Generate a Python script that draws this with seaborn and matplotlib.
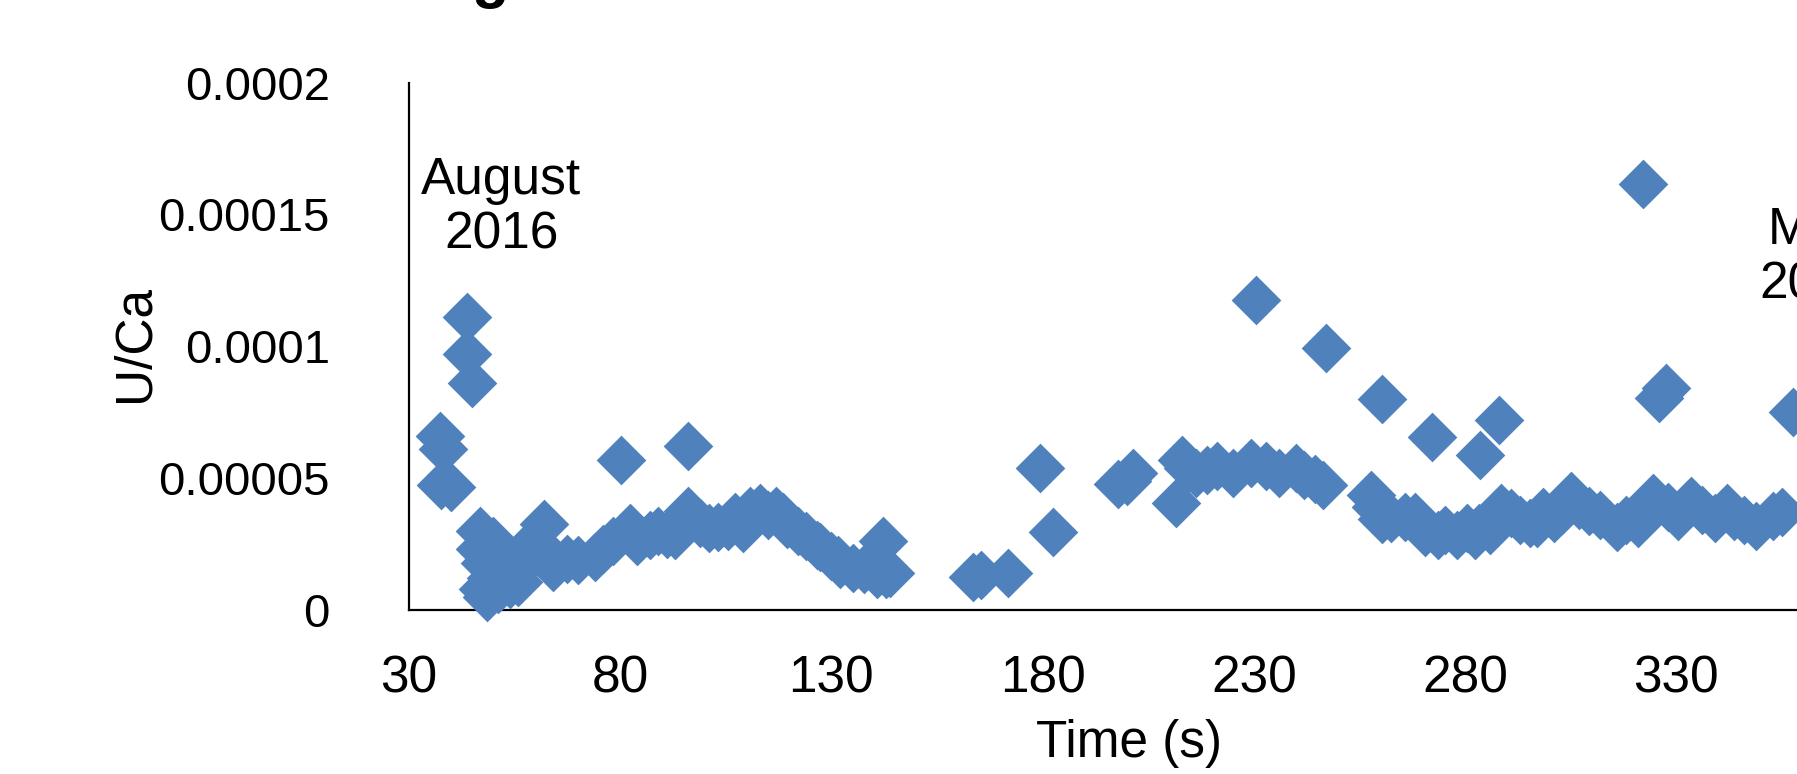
import numpy as np
import pandas as pd
import matplotlib
matplotlib.use("Agg")
import matplotlib.pyplot as plt
from matplotlib import font_manager
import seaborn as sns

# ---- data ----
time_s = [37.4, 38.0, 37.5, 40.0, 43.8, 43.8, 45.0,
          46.8, 50.0, 46.8, 48.0, 47.6, 48.5, 51.1, 49.5, 53.9, 55.0, 52.0, 55.9, 58.0,
          62.0, 60.2, 64.2, 67.3, 70.0, 74.0, 76.0, 78.4, 80.3, 82.3, 84.0, 87.0, 89.0,
          91.0, 93.0, 96.1, 96.1, 99.0, 101.0, 103.2, 105.5, 107.2, 109.0, 110.7, 113.1,
          115.0, 117.0, 118.6, 119.4, 122.2, 124.0, 126.5, 127.3, 130.0, 131.6, 132.0,
          135.0, 137.6, 140.7, 142.3, 143.0, 143.9,
          163.6, 165.5, 171.9, 179.4, 182.5, 197.8, 200.0, 201.5, 211.7, 212.9, 214.5,
          216.4, 219.0, 221.2, 225.0, 229.3, 230.5, 233.0, 236.0, 240.0, 242.0, 244.5,
          246.5, 247.0,
          257.8, 259.0, 260.3, 260.3, 262.6, 265.8, 268.2, 270.5, 272.3, 273.7, 275.3,
          278.0, 280.4, 282.4, 283.5, 283.4, 285.9, 288.1, 288.6, 291.0, 293.0, 295.4,
          297.0, 298.5, 301.0, 303.0, 305.0, 307.0, 309.4, 312.0, 315.9, 318.0, 321.0,
          322.2, 324.6, 325.9, 327.7, 328.0, 330.5, 333.4, 336.0, 339.2, 342.0, 343.6,
          346.0, 349.0, 353.0, 355.0, 357.6]
u_ca_e5 = [6.6, 6.1, 4.75, 4.65, 11.1, 9.7, 8.6,
           3.0, 2.6, 2.3, 1.8, 0.8, 0.5, 0.8, 1.2, 1.0, 1.4, 2.0, 1.07, 2.4,
           3.25, 2.53, 1.64, 1.93, 1.9, 2.0, 2.3, 2.6, 5.7, 3.1, 2.6, 2.85, 3.0,
           2.9, 2.85, 6.2, 3.75, 3.3, 3.1, 3.16, 3.2, 3.54, 3.1, 3.75, 3.85,
           3.6, 3.75, 3.54, 3.25, 3.0, 2.8, 2.46, 2.4, 2.06, 1.9, 1.73,
           1.6, 1.55, 1.35, 2.63, 1.35, 1.41,
           1.26, 1.33, 1.39, 5.37, 2.94, 4.76, 4.9, 5.18, 4.07, 5.69, 5.4,
           5.18, 5.3, 5.47, 5.2, 5.56, 11.75, 5.46, 5.2, 5.37, 5.1, 4.95,
           4.74, 9.92,
           4.36, 3.92, 8.0, 3.44, 3.48, 3.54, 3.51, 2.97, 6.57, 2.84, 3.03,
           2.84, 3.1, 2.84, 5.87, 3.1, 3.03, 7.19, 3.85, 3.67, 3.41, 3.29,
           3.29, 3.73, 3.5, 3.8, 4.33, 4.0, 3.76, 3.6, 3.16, 3.4, 3.29,
           16.17, 4.23, 8.02, 8.40, 3.9, 3.57, 4.14, 3.8, 3.48, 3.85, 3.57,
           3.4, 3.2, 3.57, 3.73, 7.49]
u_ca = [v * 1e-5 for v in u_ca_e5]

x_ticks = [30, 80, 130, 180, 230, 280, 330]
y_ticks = [0, 0.00005, 0.0001, 0.00015, 0.0002]
y_tick_labels = ["0", "0.00005", "0.0001", "0.00015", "0.0002"]
annotations = [("August\n2016", 51.8, 1.524e-4), ("May\n2017", 363.2, 1.335e-4)]

df = pd.DataFrame({"Time (s)": time_s, "U/Ca": u_ca})

sns.set_theme(style="white")
plt.rcParams["font.family"] = ["Liberation Sans", "DejaVu Sans"]
FS = 37

installed = {f.name for f in font_manager.fontManager.ttflist}
if "Liberation Sans Narrow" in installed:
    ytick_family, ytick_fs = ["Liberation Sans Narrow", "Liberation Sans"], 38
else:
    ytick_family, ytick_fs = ["Liberation Sans", "DejaVu Sans"], 34

W, H = 1797, 774
fig = plt.figure(figsize=(W / 100, H / 100), dpi=100)
ax = fig.add_axes([409 / W, 1 - 610 / H, 1 - 409 / W, (610 - 82.5) / H])

sns.scatterplot(data=df, x="Time (s)", y="U/Ca", ax=ax, marker="D", s=640,
                color="#4F81BD", linewidth=0, clip_on=False, zorder=3)

ax.set_xlim(30, 358.6)
ax.set_ylim(0, 0.0002)
ax.set_xticks(x_ticks)
ax.set_xticklabels([str(t) for t in x_ticks], fontsize=FS)
ax.set_yticks(y_ticks)
ax.set_yticklabels(y_tick_labels, fontsize=ytick_fs, family=ytick_family)
ax.tick_params(axis="x", length=0, pad=32, colors="black")
ax.tick_params(axis="y", length=0, pad=57, colors="black")

for side in ["top", "right"]:
    ax.spines[side].set_visible(False)
for side in ["left", "bottom"]:
    ax.spines[side].set_color("black")
    ax.spines[side].set_linewidth(1.6)
    ax.spines[side].set_zorder(2)

ax.set_xlabel("Time (s)", fontsize=FS, color="black")
ax.xaxis.label.set_verticalalignment("center")
ax.xaxis.set_label_coords((1129 - 409) / (W - 409), (610 - 743) / (610 - 82.5))
ax.set_ylabel("U/Ca", fontsize=FS, color="black")
ax.yaxis.label.set_verticalalignment("center")
ax.yaxis.set_label_coords((135 - 409) / (W - 409), (610 - 343) / (610 - 82.5))

for txt, xx, yy in annotations:
    ax.text(xx, yy, txt, fontsize=FS, ha="center", va="center",
            multialignment="center", color="black", clip_on=False, linespacing=1.15)

# cut-off title letter at the very top
fig.text(490 / W, 1 + 4 / H, "g", fontsize=44, fontweight="bold", ha="center",
         va="baseline", color="black")

fig.savefig("out.png", dpi=100, facecolor="white")
